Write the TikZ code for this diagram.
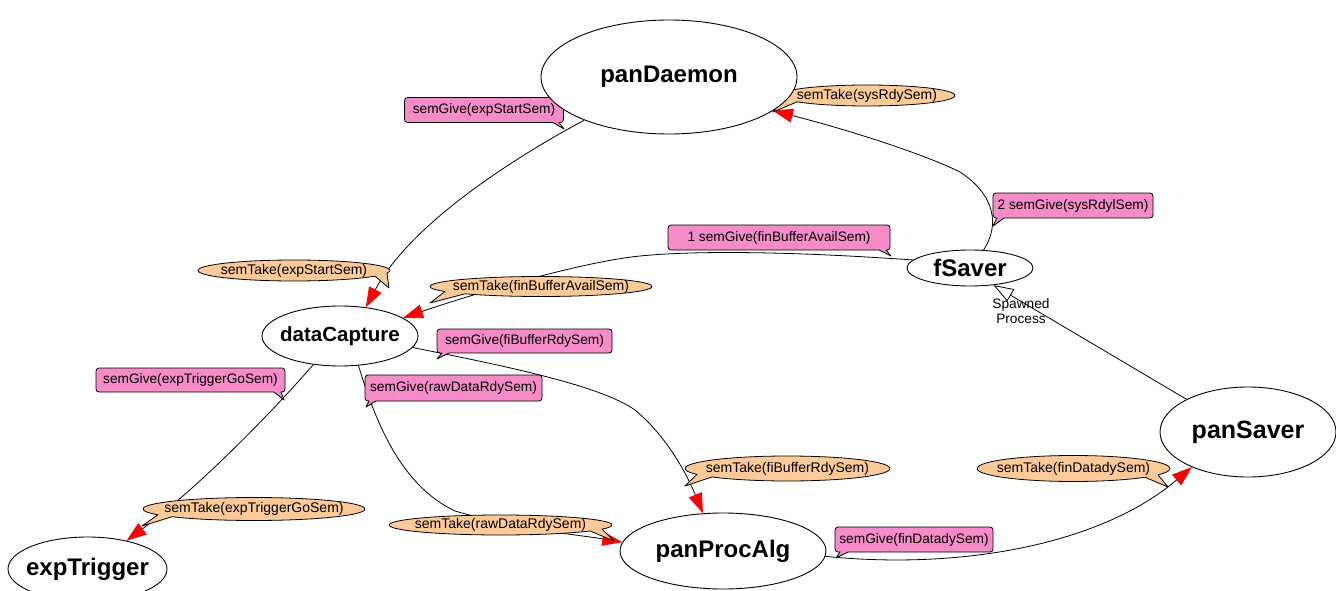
\documentclass[tikz,border=0pt]{standalone}
\usepackage{fontspec}
\setmainfont{Liberation Sans}
\usetikzlibrary{shapes.geometric,arrows.meta}
\definecolor{pinkc}{RGB}{245,140,200}
\definecolor{orangec}{RGB}{252,202,152}
\pgfdeclarelayer{edgelayer}
\pgfdeclarelayer{shapelayer}
\pgfsetlayers{edgelayer,shapelayer,main}
\begin{document}
\begin{tikzpicture}[x=1pt,y=-1pt,
  proc/.style={ellipse,draw,fill=white,inner sep=0pt,line width=0.9pt,font=\fontsize{24}{28}\selectfont\bfseries},
  gtext/.style={inner sep=0pt,outer sep=0pt,font=\fontsize{13.7}{15}\selectfont},
  ttext/.style={inner sep=0pt,outer sep=0pt,font=\fontsize{14}{15}\selectfont},
  gshape/.style={draw,fill=pinkc,line width=0.8pt,rounded corners=3pt,line join=round},
  tshape/.style={draw,fill=orangec,line width=0.8pt,line join=round},
  edge/.style={draw=black,line width=0.8pt},
  arr/.style={-{Triangle[length=20pt,width=14pt,color=red,fill=red]}},
  ]
\useasboundingbox (0,0) rectangle (1336,591);

% processes
\node[proc,minimum width=256pt,minimum height=114pt] (pd) at (669,77) {\makebox[0pt]{panDaemon}};
\node[proc,minimum width=126pt,minimum height=36pt] (fs) at (970,268) {\makebox[0pt]{fSaver}};
\node[proc,minimum width=156pt,minimum height=60pt,font=\fontsize{20.5}{24}\selectfont\bfseries] (dc) at (340,336) {\makebox[0pt]{dataCapture}};
\node[proc,minimum width=159pt,minimum height=64pt] (et) at (87.5,569) {\makebox[0pt]{expTrigger}};
\node[proc,minimum width=206pt,minimum height=76pt] (pa) at (723,551) {\makebox[0pt]{panProcAlg}};
\node[proc,minimum width=176pt,minimum height=90pt,font=\fontsize{25}{29}\selectfont\bfseries] (ps) at (1248,432) {\makebox[0pt]{panSaver}};

% connectors
\begin{pgfonlayer}{edgelayer}
\draw[edge,arr] (pd.-153) .. controls (510,160) and (410,225) .. (dc.48);
\draw[edge,arr] (fs.53) .. controls (1000,225) and (995,195) .. (960,172) .. controls (915,150) and (830,125) .. (pd.-18);
\draw[edge,arr] (fs.172) .. controls (800,252) and (700,250) .. (640,256) .. controls (580,262) and (470,295) .. (dc.16);
\draw[edge,-{Triangle[length=20pt,width=14pt,fill=white]}] (ps.152) -- (fs.-36);
\draw[edge,arr] (dc.-133) .. controls (265,420) and (195,490) .. (et.36);
\draw[edge,arr] (dc.-58) .. controls (375,420) and (400,485) .. (455,511) .. controls (520,530) and (580,535) .. (pa.175);
\draw[edge,arr] (dc.-9) .. controls (500,365) and (600,385) .. (635,410) .. controls (665,435) and (685,470) .. (pa.118);
\draw[edge,arr] (pa.-3) .. controls (960,570) and (1100,545) .. (ps.-148);
\end{pgfonlayer}
\node[align=center,font=\fontsize{13.7}{15}\selectfont] (spl) at (1021,311) {Spawned\\Process};

% semGive callouts
\node[gtext,minimum width=159pt,minimum height=25pt] (ga) at (484,110) {semGive(expStartSem)};
\node[gtext,minimum width=160pt,minimum height=25pt] (gb) at (1073,205.5) {2 semGive(sysRdylSem)};
\node[gtext,minimum width=222pt,minimum height=25pt] (gc) at (779,237.5) {1 semGive(finBufferAvailSem)};
\node[gtext,minimum width=175pt,minimum height=24pt] (gd) at (524.5,341) {semGive(fiBufferRdySem)};
\node[gtext,minimum width=189pt,minimum height=24pt] (ge) at (190.5,380) {semGive(expTriggerGoSem)};
\node[gtext,minimum width=177pt,minimum height=26pt] (gf) at (453.5,388) {semGive(rawDataRdySem)};
\node[gtext,minimum width=158pt,minimum height=25pt] (gg) at (914,539.5) {semGive(finDatadySem)};
\begin{pgfonlayer}{shapelayer}
\draw[gshape] (ga.north west) -- (ga.north east) -- (ga.south east) [sharp corners] -- (ga.south -| 559,0) -- (564,129) -- (ga.south -| 553,0) [rounded corners=3pt] -- (ga.south west) -- cycle;
\draw[gshape] (gb.north west) -- (gb.north east) -- (gb.south east) [sharp corners] -- (gb.south -| 1004,0) -- (993,226) -- (gb.south -| 997,0) [rounded corners=3pt] -- (gb.south west) -- cycle;
\draw[gshape] (gc.north west) -- (gc.north east) -- (gc.south east) [sharp corners] -- (gc.south -| 886,0) -- (891,256) -- (gc.south -| 879,0) [rounded corners=3pt] -- (gc.south west) -- cycle;
\draw[gshape] (gd.north west) -- (gd.north east) -- (gd.south east) [sharp corners] -- (gd.south -| 449,0) -- (437,359) -- (gd.south -| 442,0) [rounded corners=3pt] -- (gd.south west) -- cycle;
\draw[gshape] (ge.north west) -- (ge.north east) -- (ge.south east) [sharp corners] -- (ge.south -| 281,0) -- (284,400) -- (ge.south -| 274,0) [rounded corners=3pt] -- (ge.south west) -- cycle;
\draw[gshape] (gf.north west) -- (gf.north east) -- (gf.south east) [sharp corners] -- (gf.south -| 376,0) -- (366,407) -- (gf.south -| 369,0) [rounded corners=3pt] -- (gf.south west) -- cycle;
\draw[gshape] (gg.north west) -- (gg.north east) -- (gg.south east) [sharp corners] -- (gg.south -| 848,0) -- (836,558) -- (gg.south -| 840,0) [rounded corners=3pt] -- (gg.south west) -- cycle;
\end{pgfonlayer}

% semTake callouts
\node[ttext] (ta) at (867,95.5) {semTake(sysRdySem)};
\node[ttext] (tb) at (294,270.5) {semTake(expStartSem)};
\node[ttext] (tc) at (541,286.5) {semTake(finBufferAvailSem)};
\node[ttext] (td) at (254,509) {semTake(expTriggerGoSem)};
\node[ttext] (te) at (500.5,525) {semTake(rawDataRdySem)};
\node[ttext] (tf) at (787.5,468.5) {semTake(fiBufferRdySem)};
\node[ttext] (tg) at (1073.5,468.5) {semTake(finDatadySem)};
\begin{pgfonlayer}{shapelayer}
\draw[tshape] (ta.center) ++(162.7:88 and 10.5) arc[start angle=162.7,end angle=502.7,x radius=88,y radius=10.5] -- (773,112) -- cycle;
\draw[tshape] (tb.center) ++(32.5:96 and 10.5) arc[start angle=32.5,end angle=374.4,x radius=96,y radius=10.5] -- (389,288) -- cycle;
\draw[tshape] (tc.center) ++(149.9:111 and 10) arc[start angle=149.9,end angle=493.2,x radius=111,y radius=10] -- (430,303) -- cycle;
\draw[tshape] (td.center) ++(149.9:111 and 11.5) arc[start angle=149.9,end angle=497.6,x radius=111,y radius=11.5] -- (142,526) -- cycle;
\draw[tshape] (te.center) ++(36.6:111.5 and 10) arc[start angle=36.6,end angle=384.4,x radius=111.5,y radius=10] -- (614,541) -- cycle;
\draw[tshape] (tf.center) ++(152:102.5 and 12.5) arc[start angle=152,end angle=497.5,x radius=102.5,y radius=12.5] -- (685,486) -- cycle;
\draw[tshape] (tg.center) ++(42.2:96.5 and 13) arc[start angle=42.2,end angle=388.9,x radius=96.5,y radius=13] -- (1168,487) -- cycle;
\end{pgfonlayer}
\end{tikzpicture}
\end{document}
